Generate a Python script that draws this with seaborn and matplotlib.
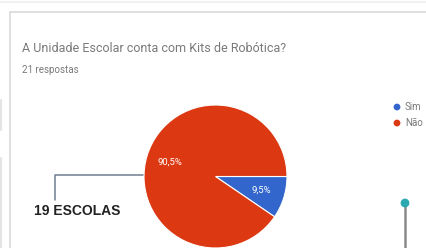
import seaborn as sns
import matplotlib.pyplot as plt

# data
labels = ["Sim", "Não"]
counts = [2, 19]
colors = ["#3366cc", "#dc3912"]
title = "A Unidade Escolar conta com Kits de Robótica?"
subtitle = "21 respostas"
callout = "19 ESCOLAS"

sns.set_theme()
sns.set_style("white")
plt.rcParams["font.family"] = ["Roboto", "DejaVu Sans"]

W, H = 427, 248
fig = plt.figure(figsize=(W / 100, H / 100), dpi=100)
fig.patch.set_facecolor("white")

# overlay in pixel coordinates for the card decorations
ov = fig.add_axes([0, 0, 1, 1])
ov.set_xlim(0, W)
ov.set_ylim(H, 0)
ov.axis("off")

# card border and page strip
ov.plot([10.5, W], [12, 12], color="#d9d9d9", lw=1.2)
ov.plot([10.5, 10.5], [12, H], color="#d9d9d9", lw=1.2)
ov.plot([0.5, W], [1.5, 1.5], color="#f0f0f0", lw=1.5)
ov.plot([1, 1], [100, 130], color="#e4e4e4", lw=1.5)
ov.plot([1, 1], [158, H], color="#e4e4e4", lw=1.5)

ov.text(22, 48, title, fontsize=9, color="#7a7a7a", va="center", ha="left")
ov.text(22, 70, subtitle, fontsize=7, color="#7a7a7a", va="center", ha="left")

# legend
for i, (lab, c) in enumerate(zip(labels, colors)):
    y = 107 + i * 16
    ov.scatter([397], [y], s=24, color=c, edgecolors="none")
    ov.text(405, y, lab, fontsize=7, color="#7a7a7a", va="center", ha="left")

# callout
ov.plot([144, 55, 55], [174.5, 174.5, 200], color="#6f7d90", lw=1.1)
ov.text(34, 211, callout, fontsize=10, fontweight="bold", color="#222222",
        family=["Liberation Sans", "DejaVu Sans"], va="center", ha="left")

# teal marker on the right
ov.plot([405, 405], [203, H], color="#8a8a8a", lw=1.8)
ov.scatter([405], [203], s=40, color="#2aa9b2", edgecolors="none", zorder=3)

# pie
cx, cy, r = 215.5, 176.5, 71.5
pax = fig.add_axes([(cx - r) / W, (H - cy - r) / H, 2 * r / W, 2 * r / H])
wedges, texts, autotexts = pax.pie(
    counts, colors=colors, startangle=0, counterclock=False,
    autopct=lambda p: f"{p:.1f}%".replace(".", ","), pctdistance=0.67,
    wedgeprops=dict(edgecolor="white", linewidth=0.8),
    textprops=dict(color="white", fontsize=6.8),
)
pax.set_xlim(-1, 1)
pax.set_ylim(-1, 1)
pax.set_aspect("equal")
pax.axis("off")

fig.savefig("out.png", dpi=100)
